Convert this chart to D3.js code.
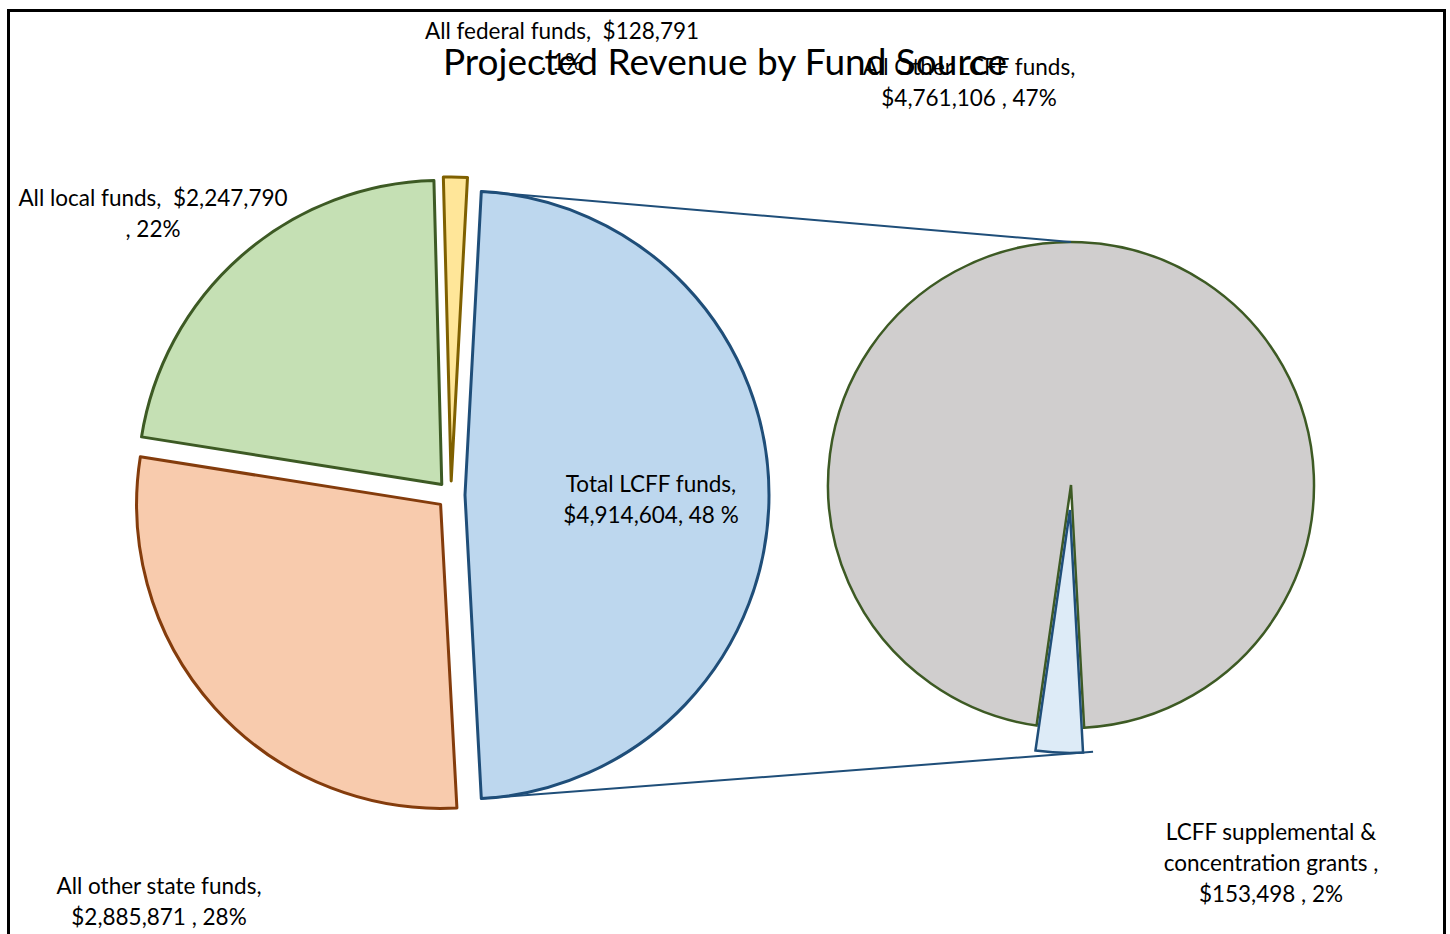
<!DOCTYPE html>
<html><head><meta charset="utf-8">
<script src="https://cdn.jsdelivr.net/npm/d3@7"></script>
<style>html,body{margin:0;padding:0;background:#fff}text{font-family:Lato,"Open Sans",sans-serif;fill:#000;white-space:pre}</style>
</head><body><svg id="c" width="1450" height="934"></svg>
<script>
// ---- data ----
const categories = ["Total LCFF funds", "All other state funds", "All local funds", "All federal funds"];
const values = [4914604, 2885871, 2247790, 128791];
const subCategories = ["LCFF supplemental & concentration grants", "All Other LCFF funds"];
const subValues = [153498, 4761106];
const title = "Projected Revenue by Fund Source";
const labelLines = {
  "Total LCFF funds": ["Total LCFF funds,", "$4,914,604, 48 %"],
  "All other state funds": ["All other state funds,", "$2,885,871 , 28%"],
  "All local funds": ["All local funds,  $2,247,790", ", 22%"],
  "All federal funds": ["All federal funds,  $128,791", ", 1%"],
  "LCFF supplemental & concentration grants": ["LCFF supplemental &", "concentration grants ,", "$153,498 , 2%"],
  "All Other LCFF funds": ["All Other LCFF funds,", "$4,761,106 , 47%"]
};

// ---- styles / layout ----
const fills = {
  "Total LCFF funds": "#bdd7ee", "All other state funds": "#f8cbad",
  "All local funds": "#c5e0b4", "All federal funds": "#ffe699",
  "LCFF supplemental & concentration grants": "#ddebf7", "All Other LCFF funds": "#d0cece"
};
const strokes = {
  "Total LCFF funds": "#1f4e79", "All other state funds": "#843c0c",
  "All local funds": "#3d5a24", "All federal funds": "#7f6000",
  "LCFF supplemental & concentration grants": "#1f4e79", "All Other LCFF funds": "#3d5a24"
};
const labelPos = {
  "All federal funds": [562, 30], "All Other LCFF funds": [969, 66],
  "All local funds": [153, 197], "Total LCFF funds": [651, 483],
  "All other state funds": [159, 885], "LCFF supplemental & concentration grants": [1271, 831]
};
const lineGap = 31;
const main = {cx: 451, cy: 495, r: 304, explode: 14};
const sub = {cx: 1071, cy: 485, r: 243, explode: 25, startDeg: 176.9};

const svg = d3.select("#c");
svg.append("rect").attr("width", 1450).attr("height", 934).attr("fill", "#fff");
svg.append("rect").attr("x", 8.5).attr("y", 10.5).attr("width", 1436).attr("height", 950)
  .attr("fill", "none").attr("stroke", "#000").attr("stroke-width", 3);

const total = d3.sum(values);
const a0 = 2 * Math.PI * values[0] / total;
const start = Math.PI / 2 - a0 / 2;
const pie = d3.pie().sort(null).value(d => d).startAngle(start).endAngle(start + 2 * Math.PI);
const arcsMain = pie(values);
const arcMain = d3.arc().innerRadius(0).outerRadius(main.r);
const off = (d, e) => { const m = (d.startAngle + d.endAngle) / 2; return [e * Math.sin(m), -e * Math.cos(m)]; };

const gMain = svg.append("g").attr("transform", `translate(${main.cx},${main.cy})`);
gMain.selectAll("path").data(arcsMain).join("path")
  .attr("transform", d => `translate(${off(d, main.explode)})`)
  .attr("d", arcMain)
  .attr("fill", (d, i) => fills[categories[i]])
  .attr("stroke", (d, i) => strokes[categories[i]])
  .attr("stroke-width", 3).attr("stroke-linejoin", "round");

// sub pie
const sStart = sub.startDeg * Math.PI / 180;
const subPie = d3.pie().sort(null).value(d => d).startAngle(sStart).endAngle(sStart + 2 * Math.PI);
const arcsSub = subPie(subValues);
const arcSub = d3.arc().innerRadius(0).outerRadius(sub.r);
const gSub = svg.append("g").attr("transform", `translate(${sub.cx},${sub.cy})`);
gSub.selectAll("path").data([arcsSub[1], arcsSub[0]]).join("path")
  .attr("transform", d => d.index === 0 ? `translate(${off(d, sub.explode)})` : null)
  .attr("d", arcSub)
  .attr("fill", d => fills[subCategories[d.index]])
  .attr("stroke", d => strokes[subCategories[d.index]])
  .attr("stroke-width", 2.5).attr("stroke-linejoin", "miter");

// connector lines
const lc = arcsMain[0];
const lo = off(lc, main.explode);
const p1 = [main.cx + lo[0] + main.r * Math.sin(lc.startAngle), main.cy + lo[1] - main.r * Math.cos(lc.startAngle)];
const p2 = [main.cx + lo[0] + main.r * Math.sin(lc.endAngle), main.cy + lo[1] - main.r * Math.cos(lc.endAngle)];
const sm = arcsSub[0];
const so = off(sm, sub.explode);
const q1 = [sub.cx, sub.cy - sub.r];
const corner = [sub.cx + so[0] + sub.r * Math.sin(sm.startAngle), sub.cy + so[1] - sub.r * Math.cos(sm.startAngle)];
const slope = (corner[1] - p2[1]) / (corner[0] - p2[0]);
const q2 = [corner[0] + 10, corner[1] + 10 * slope];
svg.append("line").attr("x1", p1[0]).attr("y1", p1[1]).attr("x2", q1[0]).attr("y2", q1[1])
  .attr("stroke", "#1f4e79").attr("stroke-width", 2);
svg.append("line").attr("x1", p2[0]).attr("y1", p2[1]).attr("x2", q2[0]).attr("y2", q2[1])
  .attr("stroke", "#1f4e79").attr("stroke-width", 2);

// title
svg.append("text").attr("x", 725).attr("y", 60).attr("text-anchor", "middle")
  .attr("dominant-baseline", "central").style("font-size", "37px").text(title);

// labels
Object.keys(labelLines).forEach(k => {
  const [x, y] = labelPos[k];
  const t = svg.append("text").attr("text-anchor", "middle").style("font-size", "22.5px");
  labelLines[k].forEach((ln, i) => {
    t.append("tspan").attr("x", x).attr("y", y + i * lineGap).attr("dominant-baseline", "central").text(ln);
  });
});
</script></body></html>
